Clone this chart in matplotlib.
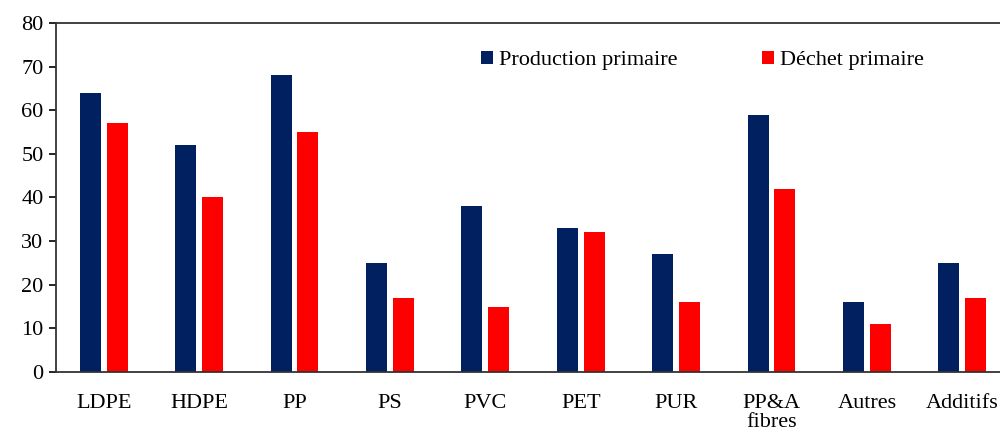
import matplotlib.pyplot as plt
import numpy as np

categories = ["LDPE", "HDPE", "PP", "PS", "PVC", "PET", "PUR", "PP&A\nfibres", "Autres", "Additifs"]
production = [64, 52, 68, 25, 38, 33, 27, 59, 16, 25]
dechet = [57, 40, 55, 17, 15, 32, 16, 42, 11, 17]

plt.rcParams['font.family'] = ['Liberation Serif', 'DejaVu Serif']

fig = plt.figure(figsize=(10, 4.38), dpi=100)
ax = fig.add_axes([0.056, 1 - 372 / 438, 0.954, (372 - 23) / 438])

x = np.arange(len(categories))
w = 0.22
ax.bar(x - 0.14, production, w, color='#002060', label='Production primaire')
ax.bar(x + 0.14, dechet, w, color='#ff0000', label='Déchet primaire')

ax.set_xlim(-0.5, len(categories) - 0.5)
ax.set_ylim(0, 80)
ax.set_yticks(range(0, 81, 10))
ax.set_xticks(x)
ax.set_xticklabels(categories, fontsize=16, linespacing=0.95)
ax.tick_params(axis='x', length=0, pad=16)
ax.tick_params(axis='y', labelsize=16, length=5, width=1.2, direction='out', pad=4)

for s in ['left', 'bottom', 'top']:
    ax.spines[s].set_linewidth(1.3)
    ax.spines[s].set_color('#333333')
ax.spines['right'].set_visible(False)

ax.legend(loc='center left', bbox_to_anchor=(0.461, 0.862), bbox_transform=fig.transFigure,
          ncol=2, frameon=False, fontsize=16, handlelength=0.55, handleheight=0.55,
          handletextpad=0.25, columnspacing=3.8)

fig.savefig('out.png', dpi=100)
